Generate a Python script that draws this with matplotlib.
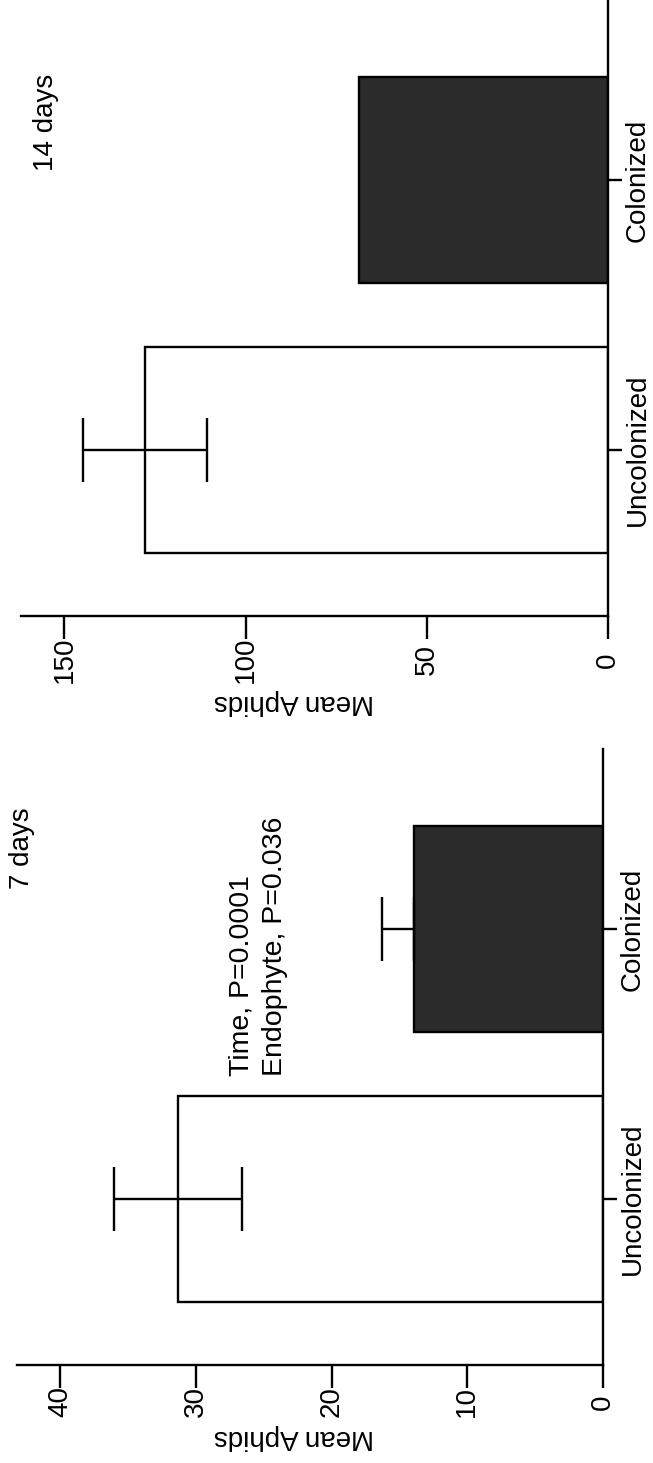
import matplotlib
matplotlib.use('Agg')
import matplotlib.pyplot as plt

plt.rcParams['font.family'] = ['Liberation Sans', 'DejaVu Sans']

# ---- data ----
categories = ['Uncolonized', 'Colonized']
means_7 = [31.3, 13.9]
err_7 = [4.7, 2.4]
means_14 = [127.8, 68.6]
err_14 = [17.0, 0.0]
ticks_7 = [0, 10, 20, 30, 40]
ticks_14 = [0, 50, 100, 150]
titles = ['7 days', '14 days']
stats_lines = ['Time, P=0.0001', 'Endophyte, P=0.036']
ylabel = 'Mean Aphids'

W, H = 653, 1463
FS = 20
fig = plt.figure(figsize=(W / 100, H / 100), dpi=100)


def px(x, y):
    return x / W, 1 - y / H


def make_panel(left, right, top, bottom, means, errs, ticks, xmax, tick_pad):
    rect = [left / W, 1 - bottom / H, (right - left) / W, (bottom - top) / H]
    ax = fig.add_axes(rect)
    pos = list(range(len(categories)))
    colors = ['white', '#2b2b2b']
    ax.barh(pos, means, height=0.76, color=colors, edgecolor='black',
            linewidth=1.7, zorder=2)
    for p, m, e, c in zip(pos, means, errs, colors):
        if e <= 0:
            continue
        lower = e if c == 'white' else 0
        ax.errorbar([m], [p], xerr=[[lower], [e]], fmt='none', ecolor='black',
                    elinewidth=1.7, capsize=23, capthick=1.7, zorder=3)
    ax.set_xlim(xmax, 0)
    ax.set_ylim(-0.615, 1.667)
    for s in ['left', 'top']:
        ax.spines[s].set_visible(False)
    for s in ['right', 'bottom']:
        ax.spines[s].set_linewidth(1.7)
    ax.yaxis.tick_right()
    ax.set_yticks(pos)
    ax.set_yticklabels(categories, rotation=90, va='center', ha='left', fontsize=FS)
    ax.tick_params(axis='y', direction='out', length=10, width=1.7, pad=2)
    ax.set_xticks(ticks)
    ax.set_xticklabels([str(t) for t in ticks], rotation=90, va='center',
                       ha='center', fontsize=FS)
    ax.tick_params(axis='x', direction='out', length=16.6, width=1.7, pad=tick_pad)
    ax.set_facecolor('none')
    return ax


# top panel (14 days)
make_panel(21, 608, 0, 616, means_14, err_14, ticks_14, 162, 15)
# bottom panel (7 days)
make_panel(16.7, 603, 749, 1365, means_7, err_7, ticks_7, 43.2, 10)

fig.text(*px(22, 848), titles[0], rotation=90, ha='center', va='center', fontsize=FS)
fig.text(*px(46, 122), titles[1], rotation=90, ha='center', va='center', fontsize=FS)
fig.text(*px(242, 1076), stats_lines[0], rotation=90, ha='center', va='bottom', fontsize=20.5)
fig.text(*px(275, 1076), stats_lines[1], rotation=90, ha='center', va='bottom', fontsize=20.5)
fig.text(*px(294, 702), ylabel, rotation=180, ha='center', va='center', fontsize=FS)
fig.text(*px(294, 1437), ylabel, rotation=180, ha='center', va='center', fontsize=FS)

fig.savefig('out.png', dpi=100)
